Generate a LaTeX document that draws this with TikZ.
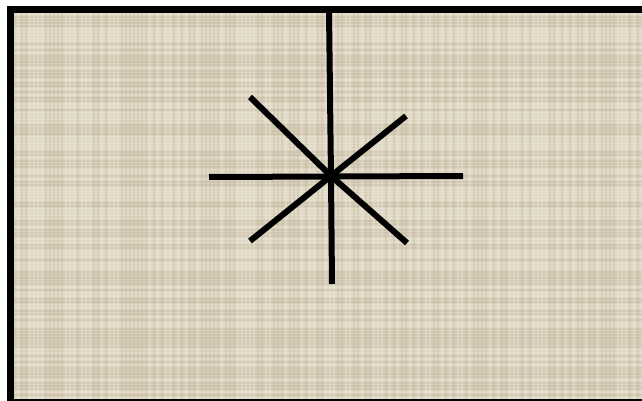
\documentclass[tikz,border=0pt]{standalone}
\usepackage{xcolor}
\usepackage{tikz}
\usetikzlibrary{calc}
\definecolor{linenbeige}{RGB}{221, 212, 192}
\definecolor{linenlight}{RGB}{236, 230, 215}
\definecolor{linendark}{RGB}{198, 188, 166}

\begin{document}
\begin{tikzpicture}[
    x=0.5pt, y=-0.5pt,
    frame/.style={draw=black, line width=3.5pt},
    spoke/.style={draw=black, line width=3pt},
    weave/.style={line width=0.6pt, opacity=0.55},
]
\useasboundingbox (0,0) rectangle (642,401);
\clip (0,0) rectangle (642,401);

% Canvas
\fill[linenbeige] (10.5,9.5) rectangle (660,402);
\pgfmathsetseed{7}
\foreach \i in {14,17,...,400} {
    \pgfmathsetmacro{\shade}{rnd}
    \ifdim\shade pt>0.5pt
        \draw[weave, linenlight] (12,\i) -- (660,\i);
    \else
        \draw[weave, linendark] (12,\i) -- (660,\i);
    \fi
}
\foreach \i in {14,18,...,642} {
    \pgfmathsetmacro{\shade}{rnd}
    \ifdim\shade pt>0.5pt
        \draw[weave, linenlight, opacity=0.4] (\i,12) -- (\i,402);
    \else
        \draw[weave, linendark, opacity=0.4] (\i,12) -- (\i,402);
    \fi
}
\draw[frame] (10.5,9.5) rectangle (660,402);

% Star
\coordinate (hub) at (331,176);
\coordinate (top) at (329,11);
\coordinate (bottom) at (332,284);
\coordinate (west) at (209,177);
\coordinate (east) at (463,176);
\coordinate (nw) at (250,97);
\coordinate (se) at (407,243);
\coordinate (ne) at (406,116);
\coordinate (sw) at (250,241);

\draw[spoke] (top) -- (hub) -- (bottom);
\draw[spoke] (west) -- (east);
\draw[spoke] (nw) -- (hub) -- (se);
\draw[spoke] (ne) -- (hub) -- (sw);

\end{tikzpicture}
\end{document}
